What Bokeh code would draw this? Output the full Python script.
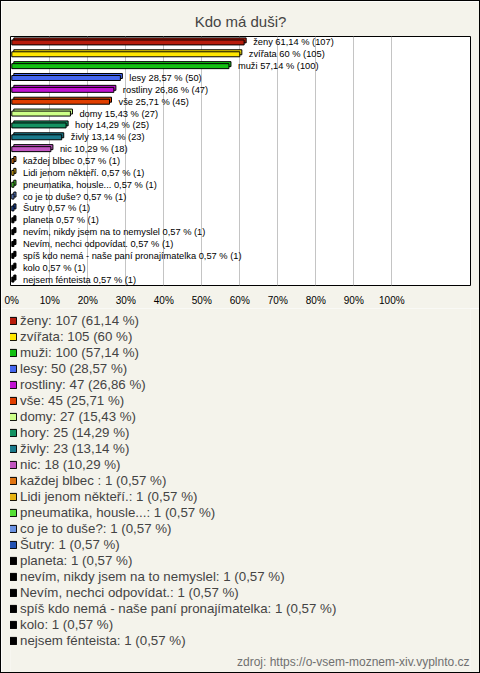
from bokeh.plotting import figure
from bokeh.layouts import column
from bokeh.models import (ColumnDataSource, FactorRange, Range1d, FixedTicker,
                          Legend, LegendItem, Label)
from bokeh.transform import dodge
from bokeh.core.properties import value
from bokeh.embed import file_html
from bokeh.resources import INLINE

# ---- data -------------------------------------------------------------
names = ["ženy", "zvířata", "muži", "lesy", "rostliny", "vše", "domy", "hory",
         "živly", "nic", "každej blbec ", "Lidi jenom někteří.",
         "pneumatika, housle...", "co je to duše?", "Šutry", "planeta",
         "nevím, nikdy jsem na to nemyslel", "Nevím, nechci odpovídat.",
         "spíš kdo nemá - naše paní pronajímatelka", "kolo", "nejsem fénteista"]
counts = [107, 105, 100, 50, 47, 45, 27, 25, 23, 18,
          1, 1, 1, 1, 1, 1, 1, 1, 1, 1, 1]
percents = [61.14, 60, 57.14, 28.57, 26.86, 25.71, 15.43, 14.29, 13.14, 10.29,
            0.57, 0.57, 0.57, 0.57, 0.57, 0.57, 0.57, 0.57, 0.57, 0.57, 0.57]
colors = ["#b81c0c", "#ffe600", "#12c012", "#4466ee", "#c012d2", "#e03e00",
          "#ccff88", "#149262", "#1a7a8c", "#c055c0", "#e07412", "#e8b412",
          "#55e035", "#6a92e2", "#2352b2", "#000000", "#000000", "#000000",
          "#000000", "#000000", "#000000"]
x_ticks = [0, 10, 20, 30, 40, 50, 60, 70, 80, 90, 100]
title_text = "Kdo má duši?"
source_text = "zdroj: https://o-vsem-moznem-xiv.vyplnto.cz"


def fmt(v):
    s = ("%.2f" % v).rstrip("0").rstrip(".")
    return s.replace(".", ",")


bar_labels = [f"{n} {fmt(v)} % ({c})" for n, v, c in zip(names, percents, counts)]
legend_labels = [f"{n}: {c} ({fmt(v)} %)" for n, v, c in zip(names, percents, counts)]

BG = "#f4f3eb"
FONT = "Liberation Sans"
W = 478

src = ColumnDataSource(dict(cat=names, pct=percents, zero=[0] * len(names),
                            color=colors, label=bar_labels))

# ---------------- chart ----------------
p = figure(width=W, height=307,
           y_range=FactorRange(factors=list(reversed(names))),
           x_range=Range1d(-0.34, 120.7),
           output_backend="svg", toolbar_location=None,
           y_axis_location=None,
           min_border_left=9, min_border_right=9, min_border_top=35,
           min_border_bottom=20,
           background_fill_color="white", border_fill_color=BG,
           outline_line_color="black")

p.title.text = title_text
p.title.align = "center"
p.title.text_font = FONT
p.title.text_font_size = "15px"
p.title.text_font_style = "normal"
p.title.standoff = 14

p.xaxis.ticker = FixedTicker(ticks=x_ticks)
p.xaxis.major_label_overrides = {t: f"{t}%" for t in x_ticks}
p.xaxis.axis_line_color = None
p.xaxis.major_tick_line_color = None
p.xaxis.minor_tick_line_color = None
p.xaxis.major_label_text_font = FONT
p.xaxis.major_label_text_font_size = "10px"
p.xaxis.major_label_text_color = "black"
p.xaxis.major_label_standoff = 3

p.xgrid.ticker = FixedTicker(ticks=x_ticks[1:])
p.xgrid.grid_line_color = "#c4c4c4"
p.ygrid.grid_line_color = None

# 3D-ish bars: back face shifted up/right, then front face
p.hbar(y=dodge("cat", 0.17, range=p.y_range), left=dodge("zero", 0.53),
       right=dodge("pct", 0.53), height=0.42, fill_color="color",
       line_color="black", line_width=1, source=src)
p.hbar(y="cat", left="zero", right="pct", height=0.42,
       fill_color="color", line_color="black", line_width=1, source=src)

p.text(x="pct", y="cat", text="label", x_offset=9, text_baseline="middle",
       text_font=value(FONT), text_font_size="9.3px", text_color="black",
       source=src)

# ---------------- legend panel ----------------
LEG_H = 364
q = figure(width=W, height=LEG_H,
           y_range=FactorRange(factors=list(reversed(names))),
           x_range=Range1d(0, 100),
           output_backend="svg", toolbar_location=None,
           x_axis_location=None, y_axis_location=None,
           min_border_left=0, min_border_right=0, min_border_top=0,
           min_border_bottom=0,
           background_fill_color=BG, border_fill_color=BG,
           outline_line_color=None)
q.xgrid.grid_line_color = None
q.ygrid.grid_line_color = None
proxy = q.hbar(y="cat", left="zero", right="pct", height=0.5,
               fill_color="color", line_color="black", line_width=1,
               source=src, visible=False)

items = [LegendItem(label=lab, renderers=[proxy], index=i)
         for i, lab in enumerate(legend_labels)]
legend = Legend(items=items, location=(-2, 24), orientation="vertical",
                glyph_width=9, glyph_height=9, label_height=12, spacing=1,
                label_standoff=3, padding=0, margin=0,
                border_line_color=None, background_fill_alpha=0,
                label_text_font=FONT, label_text_font_size="13.3px")
q.add_layout(legend)

q.add_layout(Label(x=459, y=11, x_units="screen", y_units="screen",
                   text=source_text, text_align="right",
                   text_baseline="middle", text_font=FONT,
                   text_font_size="12px", text_color="#707070"))

page = column(p, q, spacing=0, styles={"border": "1px solid black"})

open("out.html", "w").write(file_html(page, INLINE))
